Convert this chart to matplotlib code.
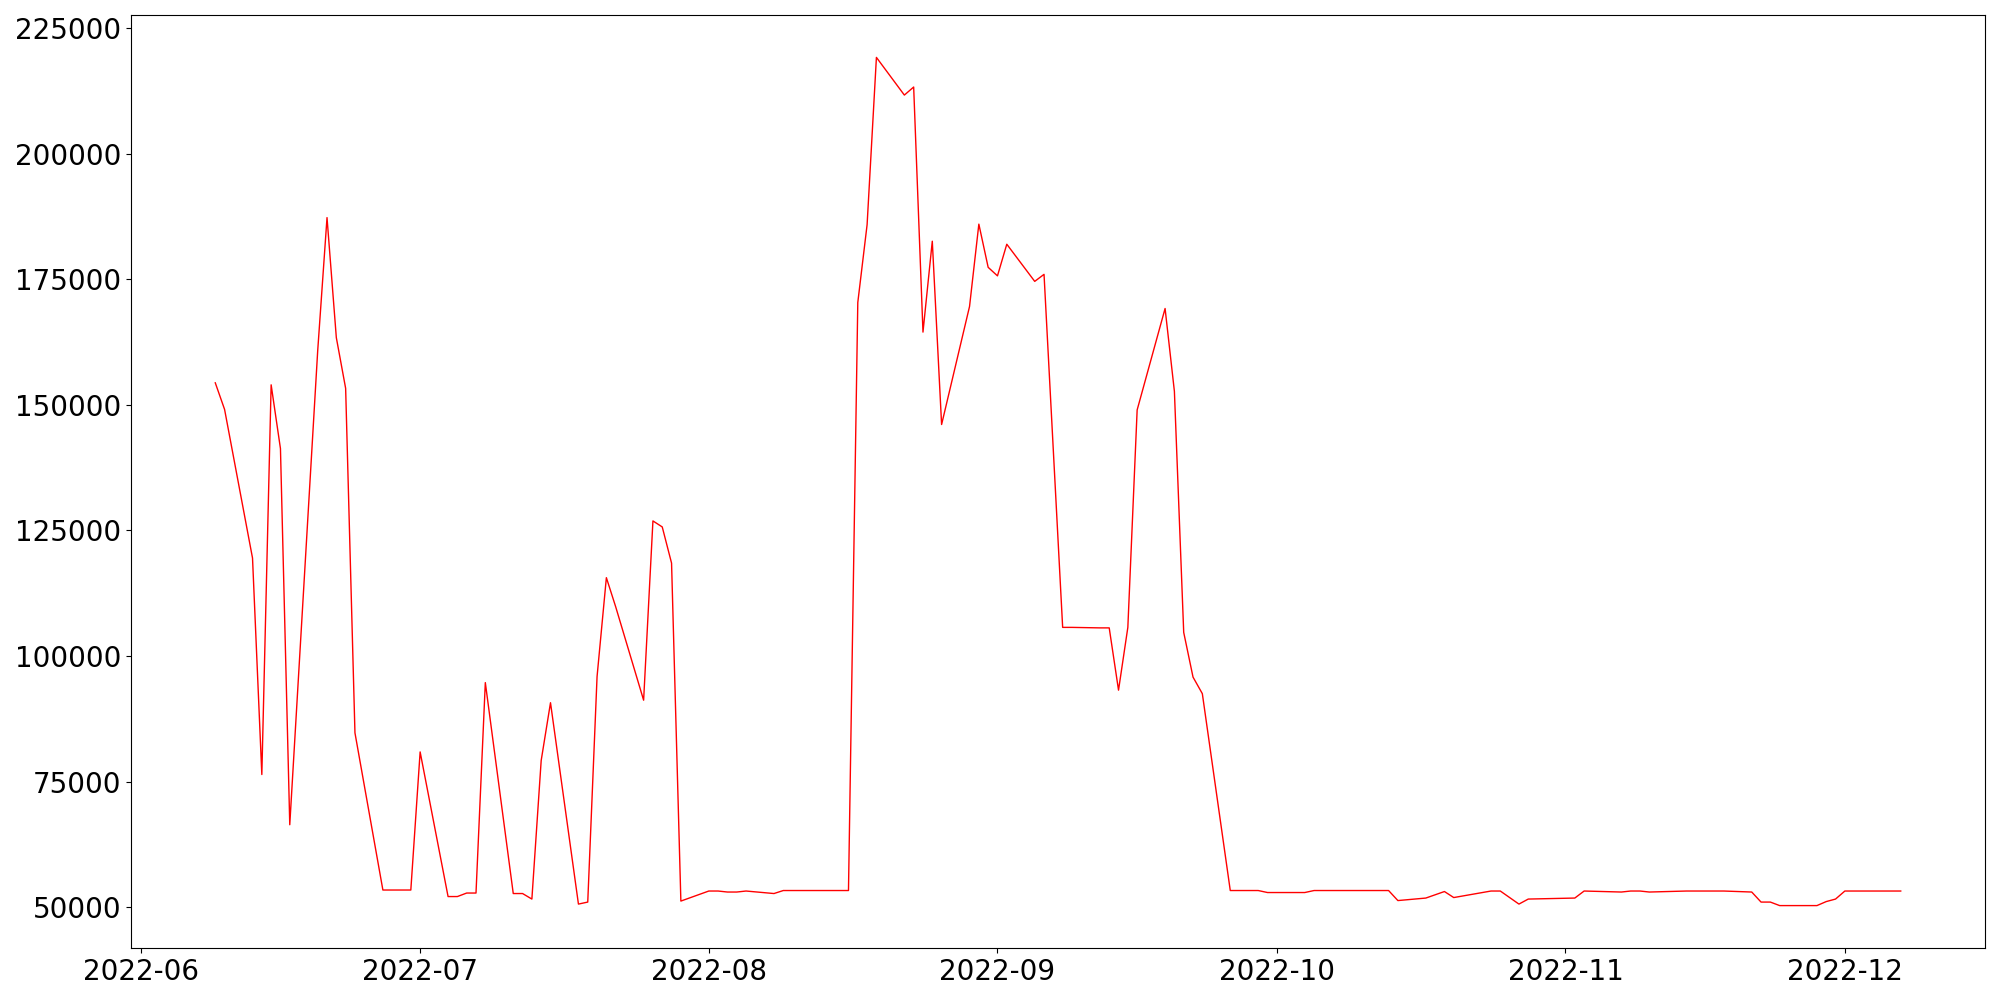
import matplotlib
matplotlib.use('Agg')
import matplotlib.pyplot as plt
import numpy as np
import pandas as pd

dates = ['2022-06-09', '2022-06-10', '2022-06-13', '2022-06-14', '2022-06-15',
         '2022-06-16', '2022-06-17', '2022-06-20', '2022-06-21', '2022-06-22',
         '2022-06-23', '2022-06-24', '2022-06-27', '2022-06-28', '2022-06-29',
         '2022-06-30', '2022-07-01', '2022-07-04', '2022-07-05', '2022-07-06',
         '2022-07-07', '2022-07-08', '2022-07-11', '2022-07-12', '2022-07-13',
         '2022-07-14', '2022-07-15', '2022-07-18', '2022-07-19', '2022-07-20',
         '2022-07-21', '2022-07-22', '2022-07-25', '2022-07-26', '2022-07-27',
         '2022-07-28', '2022-07-29', '2022-08-01', '2022-08-02', '2022-08-03',
         '2022-08-04', '2022-08-05', '2022-08-08', '2022-08-09', '2022-08-10',
         '2022-08-11', '2022-08-12', '2022-08-15', '2022-08-16', '2022-08-17',
         '2022-08-18', '2022-08-19', '2022-08-22', '2022-08-23', '2022-08-24',
         '2022-08-25', '2022-08-26', '2022-08-29', '2022-08-30', '2022-08-31',
         '2022-09-01', '2022-09-02', '2022-09-05', '2022-09-06', '2022-09-08',
         '2022-09-09', '2022-09-12', '2022-09-13', '2022-09-14', '2022-09-15',
         '2022-09-16', '2022-09-19', '2022-09-20', '2022-09-21', '2022-09-22',
         '2022-09-23', '2022-09-26', '2022-09-27', '2022-09-28', '2022-09-29',
         '2022-09-30', '2022-10-03', '2022-10-04', '2022-10-05', '2022-10-06',
         '2022-10-07', '2022-10-10', '2022-10-11', '2022-10-12', '2022-10-13',
         '2022-10-14', '2022-10-17', '2022-10-19', '2022-10-20', '2022-10-24',
         '2022-10-25', '2022-10-27', '2022-10-28', '2022-11-02', '2022-11-03',
         '2022-11-07', '2022-11-08', '2022-11-09', '2022-11-10', '2022-11-14',
         '2022-11-18', '2022-11-21', '2022-11-22', '2022-11-23', '2022-11-24',
         '2022-11-28', '2022-11-29', '2022-11-30', '2022-12-01', '2022-12-07']

values = [154400, 149100, 119500, 76400, 154000,
          141300, 66400, 160800, 187300, 163400,
          153300, 84700, 53400, 53400, 53400,
          53400, 80900, 52100, 52100, 52800,
          52800, 94700, 52700, 52700, 51600,
          79200, 90700, 50600, 51000, 95900,
          115600, 109800, 91200, 126900, 125700,
          118500, 51200, 53200, 53200, 53000,
          53000, 53200, 52700, 53300, 53300,
          53300, 53300, 53300, 53300, 170400,
          185900, 219200, 211700, 213300, 164500,
          182600, 146100, 169600, 186000, 177400,
          175700, 182000, 174600, 176000, 105700,
          105700, 105600, 105600, 93200, 105700,
          149000, 169200, 152700, 104700, 95800,
          92500, 53300, 53300, 53300, 53300,
          52900, 52900, 52900, 53300, 53300,
          53300, 53300, 53300, 53300, 53300,
          51300, 51800, 53100, 51900, 53200,
          53200, 50600, 51600, 51800, 53200,
          53000, 53200, 53200, 53000, 53200,
          53200, 53000, 51000, 51000, 50300,
          50300, 51100, 51600, 53200, 53200]

x = pd.to_datetime(dates)

fig = plt.figure(figsize=(20, 10), dpi=100)
ax = fig.add_axes([0.0655, 0.052, 0.927, 0.933])
ax.plot(x, values, color='red', linewidth=1.0)
ax.tick_params(labelsize=20)
fig.savefig('out.png', dpi=100)
